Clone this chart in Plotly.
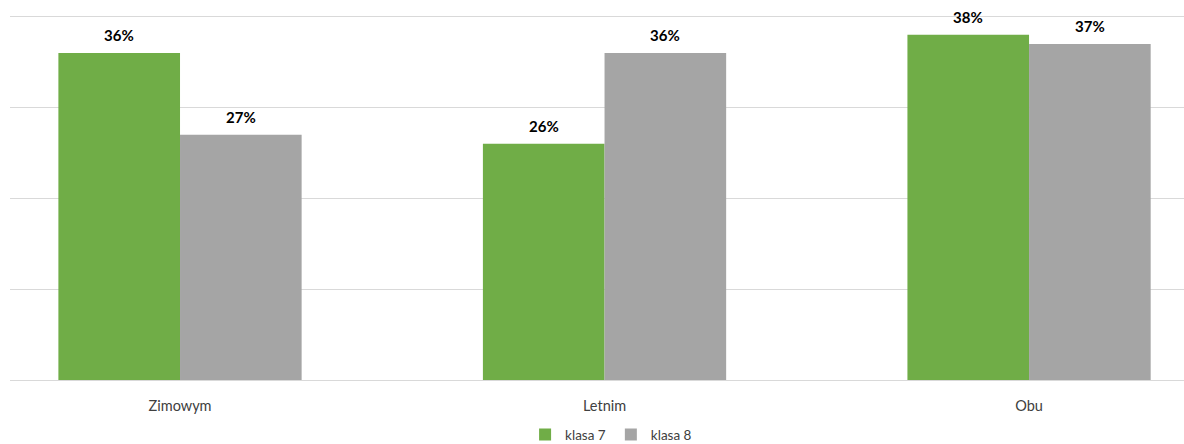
import plotly.graph_objects as go

categories = ["Zimowym", "Letnim", "Obu"]
klasa7 = [0.36, 0.26, 0.38]
klasa8 = [0.27, 0.36, 0.37]
series_names = ["klasa 7", "klasa 8"]

GREEN = "#70AD47"
GRAY = "#A5A5A5"
FONT = "Lato, Carlito, Calibri, sans-serif"

fig = go.Figure()
fig.add_trace(go.Bar(x=categories, y=klasa7, name=series_names[0],
                     marker=dict(color=GREEN, line=dict(width=0))))
fig.add_trace(go.Bar(x=categories, y=klasa8, name=series_names[1],
                     marker=dict(color=GRAY, line=dict(width=0))))

# value labels above each bar
annotations = []
for i, cat in enumerate(categories):
    for vals, off in ((klasa7, -0.143), (klasa8, 0.143)):
        annotations.append(dict(
            x=i + off, y=vals[i], xref="x", yref="y",
            text=f"<b>{round(vals[i] * 100)}%</b>",
            showarrow=False, yanchor="bottom", yshift=7,
            font=dict(family=FONT, size=15, color="#000000"),
        ))

fig.update_layout(
    width=1184, height=444,
    margin=dict(l=10, r=0, t=13, b=64, autoexpand=False),
    paper_bgcolor="white", plot_bgcolor="white",
    barmode="group", bargap=0.427, bargroupgap=0,
    font=dict(family=FONT, size=13, color="#404040"),
    showlegend=True,
    legend=dict(orientation="h", x=0.512, xanchor="center", y=-0.149, yanchor="middle",
                font=dict(family=FONT, size=13.5, color="#404040"),
                itemwidth=30, tracegroupgap=0),
    annotations=annotations,
    xaxis=dict(type="category", range=[-0.4005, 2.365], showgrid=False,
               showline=True, linecolor="#D9D9D9", linewidth=1,
               ticks="", ticklabelstandoff=13,
               tickfont=dict(family=FONT, size=14.5, color="#404040")),
    yaxis=dict(range=[0, 0.404], dtick=0.1, showgrid=True, gridcolor="#D9D9D9",
               gridwidth=1, zeroline=False, showticklabels=False, ticks=""),
)

fig.write_html("out.html")
